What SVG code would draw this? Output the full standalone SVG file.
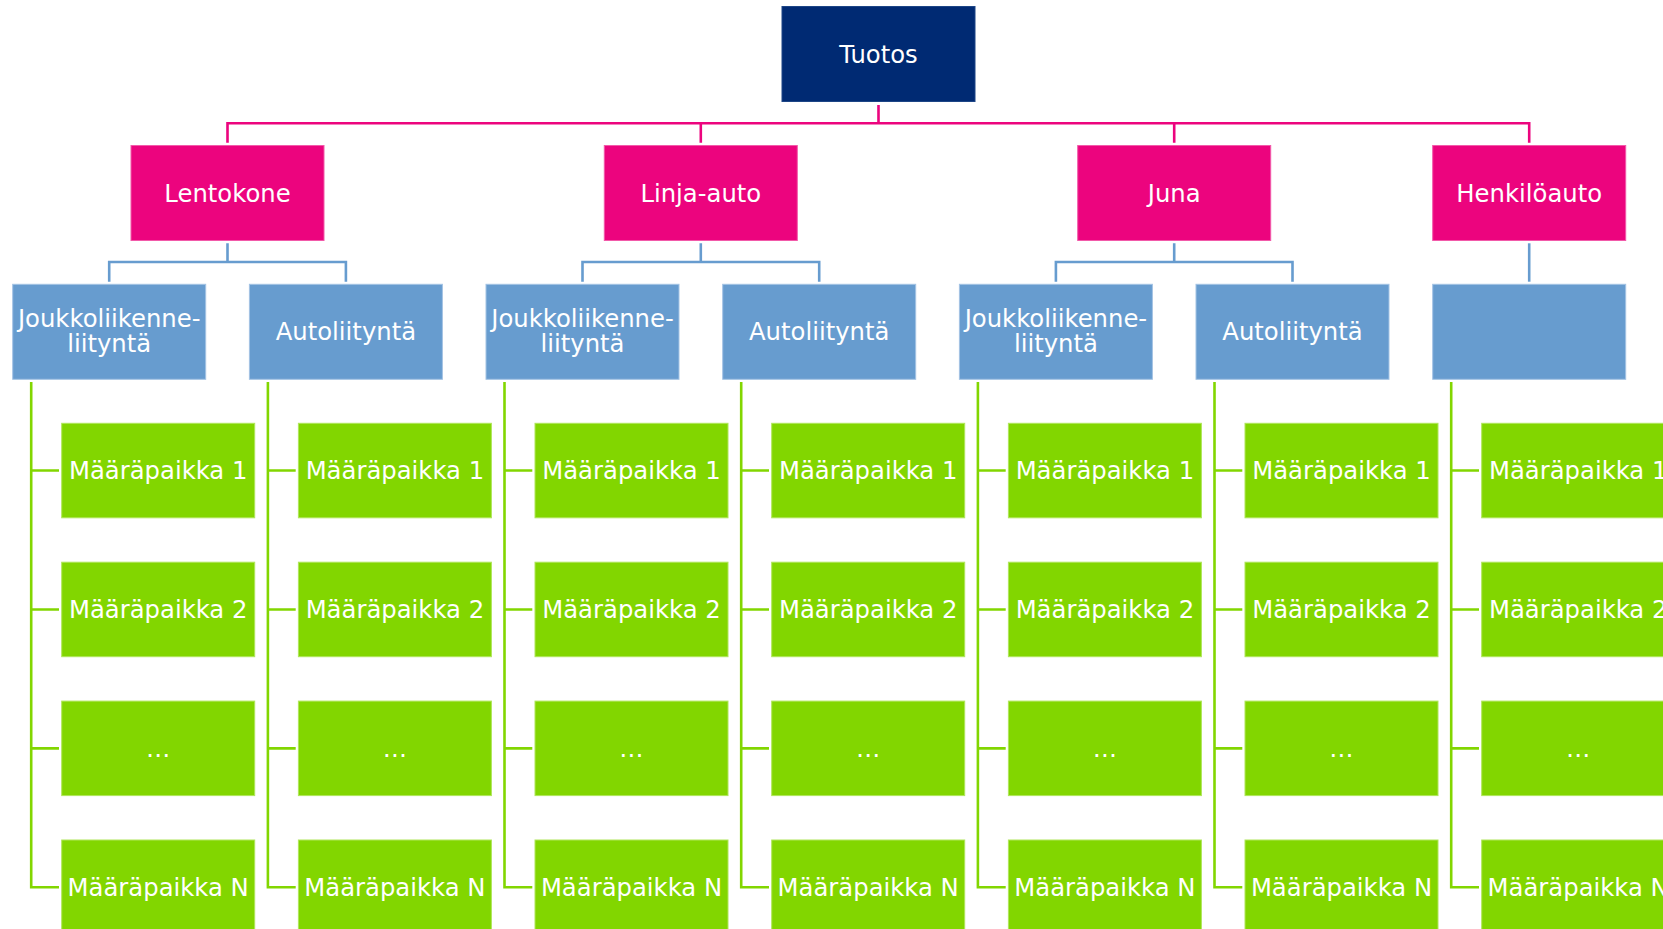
<svg xmlns="http://www.w3.org/2000/svg" width="1663" height="929" viewBox="0 0 1663 929">
  <style>
    .box { stroke-width: 1; }
    .root { fill: #002A73; stroke: #1d4586; }
    .mode { fill: #EC047E; stroke: #f25aa9; }
    .link { fill: #679CCF; stroke: #a3c3e4; }
    .dest { fill: #82D600; stroke: #b0e65a; }
    .lbl { font-family: "DejaVu Sans", Verdana, sans-serif; font-size: 24.3px; fill: #ffffff; text-anchor: middle; }
    .c-pink { fill: none; stroke: #EC047E; stroke-width: 2.6; }
    .c-blue { fill: none; stroke: #679CCF; stroke-width: 2.6; }
    .c-green { fill: none; stroke: #82D600; stroke-width: 2.6; }
  </style>

  <!-- connectors -->
  <g id="connectors">
    <!-- root to transport modes -->
    <path class="c-pink" d="M878.5 105 V123.3 M227.5 142.7 V123.3 H1529.2 V142.7 M700.8 123.3 V142.7 M1174.2 123.3 V142.7"/>
    <!-- modes to access types -->
    <path class="c-blue" d="M227.5 243.3 V262 M109.2 281.7 V262 H345.9 V281.7"/>
    <path class="c-blue" d="M700.8 243.3 V262 M582.5 281.7 V262 H819.2 V281.7"/>
    <path class="c-blue" d="M1174.2 243.3 V262 M1055.9 281.7 V262 H1292.5 V281.7"/>
    <path class="c-blue" d="M1529.2 243.3 V281.7"/>
    <!-- access types to destinations -->
    <path class="c-green" d="M31.2 382 V887.2 H59 M31.2 470.5 H59 M31.2 609.5 H59 M31.2 748.4 H59"/>
    <path class="c-green" d="M267.9 382 V887.2 H295.7 M267.9 470.5 H295.7 M267.9 609.5 H295.7 M267.9 748.4 H295.7"/>
    <path class="c-green" d="M504.5 382 V887.2 H532.3 M504.5 470.5 H532.3 M504.5 609.5 H532.3 M504.5 748.4 H532.3"/>
    <path class="c-green" d="M741.2 382 V887.2 H769 M741.2 470.5 H769 M741.2 609.5 H769 M741.2 748.4 H769"/>
    <path class="c-green" d="M977.9 382 V887.2 H1005.7 M977.9 470.5 H1005.7 M977.9 609.5 H1005.7 M977.9 748.4 H1005.7"/>
    <path class="c-green" d="M1214.5 382 V887.2 H1242.3 M1214.5 470.5 H1242.3 M1214.5 609.5 H1242.3 M1214.5 748.4 H1242.3"/>
    <path class="c-green" d="M1451.2 382 V887.2 H1479 M1451.2 470.5 H1479 M1451.2 609.5 H1479 M1451.2 748.4 H1479"/>
  </g>

  <!-- root -->
  <g id="tuotos">
    <rect class="box root" x="782" y="6.5" width="193" height="95"/>
    <text class="lbl" x="878.5" y="62.5">Tuotos</text>
  </g>

  <!-- transport modes -->
  <g id="lentokone">
    <rect class="box mode" x="131" y="145.5" width="193" height="95"/>
    <text class="lbl" x="227.5" y="201.5">Lentokone</text>
  </g>
  <g id="linja-auto">
    <rect class="box mode" x="604.3" y="145.5" width="193" height="95"/>
    <text class="lbl" x="700.8" y="201.5">Linja-auto</text>
  </g>
  <g id="juna">
    <rect class="box mode" x="1077.7" y="145.5" width="193" height="95"/>
    <text class="lbl" x="1174.2" y="201.5">Juna</text>
  </g>
  <g id="henkiloauto">
    <rect class="box mode" x="1432.7" y="145.5" width="193" height="95"/>
    <text class="lbl" x="1529.2" y="201.5">Henkilöauto</text>
  </g>

  <!-- access types -->
  <g id="lentokone-joukko">
    <rect class="box link" x="12.7" y="284.3" width="193" height="95"/>
    <text class="lbl" x="109.2" y="326.7">Joukkoliikenne-</text>
    <text class="lbl" x="109.2" y="352.3">liityntä</text>
  </g>
  <g id="lentokone-auto">
    <rect class="box link" x="249.4" y="284.3" width="193" height="95"/>
    <text class="lbl" x="345.9" y="340.3">Autoliityntä</text>
  </g>
  <g id="linja-auto-joukko">
    <rect class="box link" x="486" y="284.3" width="193" height="95"/>
    <text class="lbl" x="582.5" y="326.7">Joukkoliikenne-</text>
    <text class="lbl" x="582.5" y="352.3">liityntä</text>
  </g>
  <g id="linja-auto-auto">
    <rect class="box link" x="722.7" y="284.3" width="193" height="95"/>
    <text class="lbl" x="819.2" y="340.3">Autoliityntä</text>
  </g>
  <g id="juna-joukko">
    <rect class="box link" x="959.4" y="284.3" width="193" height="95"/>
    <text class="lbl" x="1055.9" y="326.7">Joukkoliikenne-</text>
    <text class="lbl" x="1055.9" y="352.3">liityntä</text>
  </g>
  <g id="juna-auto">
    <rect class="box link" x="1196" y="284.3" width="193" height="95"/>
    <text class="lbl" x="1292.5" y="340.3">Autoliityntä</text>
  </g>
  <g id="henkiloauto-tyhja">
    <rect class="box link" x="1432.7" y="284.3" width="193" height="95"/>
  </g>

  <!-- destinations, column 1 -->
  <g id="c1-m1"><rect class="box dest" x="61.7" y="423.3" width="193" height="94.5"/><text class="lbl" x="158.2" y="479">Määräpaikka 1</text></g>
  <g id="c1-m2"><rect class="box dest" x="61.7" y="562.2" width="193" height="94.5"/><text class="lbl" x="158.2" y="618">Määräpaikka 2</text></g>
  <g id="c1-m3"><rect class="box dest" x="61.7" y="701.1" width="193" height="94.5"/><text class="lbl" x="158.2" y="757">…</text></g>
  <g id="c1-mn"><rect class="box dest" x="61.7" y="840" width="193" height="94.5"/><text class="lbl" x="158.2" y="895.8">Määräpaikka N</text></g>

  <!-- column 2 -->
  <g id="c2-m1"><rect class="box dest" x="298.4" y="423.3" width="193" height="94.5"/><text class="lbl" x="394.9" y="479">Määräpaikka 1</text></g>
  <g id="c2-m2"><rect class="box dest" x="298.4" y="562.2" width="193" height="94.5"/><text class="lbl" x="394.9" y="618">Määräpaikka 2</text></g>
  <g id="c2-m3"><rect class="box dest" x="298.4" y="701.1" width="193" height="94.5"/><text class="lbl" x="394.9" y="757">…</text></g>
  <g id="c2-mn"><rect class="box dest" x="298.4" y="840" width="193" height="94.5"/><text class="lbl" x="394.9" y="895.8">Määräpaikka N</text></g>

  <!-- column 3 -->
  <g id="c3-m1"><rect class="box dest" x="535" y="423.3" width="193" height="94.5"/><text class="lbl" x="631.5" y="479">Määräpaikka 1</text></g>
  <g id="c3-m2"><rect class="box dest" x="535" y="562.2" width="193" height="94.5"/><text class="lbl" x="631.5" y="618">Määräpaikka 2</text></g>
  <g id="c3-m3"><rect class="box dest" x="535" y="701.1" width="193" height="94.5"/><text class="lbl" x="631.5" y="757">…</text></g>
  <g id="c3-mn"><rect class="box dest" x="535" y="840" width="193" height="94.5"/><text class="lbl" x="631.5" y="895.8">Määräpaikka N</text></g>

  <!-- column 4 -->
  <g id="c4-m1"><rect class="box dest" x="771.7" y="423.3" width="193" height="94.5"/><text class="lbl" x="868.2" y="479">Määräpaikka 1</text></g>
  <g id="c4-m2"><rect class="box dest" x="771.7" y="562.2" width="193" height="94.5"/><text class="lbl" x="868.2" y="618">Määräpaikka 2</text></g>
  <g id="c4-m3"><rect class="box dest" x="771.7" y="701.1" width="193" height="94.5"/><text class="lbl" x="868.2" y="757">…</text></g>
  <g id="c4-mn"><rect class="box dest" x="771.7" y="840" width="193" height="94.5"/><text class="lbl" x="868.2" y="895.8">Määräpaikka N</text></g>

  <!-- column 5 -->
  <g id="c5-m1"><rect class="box dest" x="1008.4" y="423.3" width="193" height="94.5"/><text class="lbl" x="1104.9" y="479">Määräpaikka 1</text></g>
  <g id="c5-m2"><rect class="box dest" x="1008.4" y="562.2" width="193" height="94.5"/><text class="lbl" x="1104.9" y="618">Määräpaikka 2</text></g>
  <g id="c5-m3"><rect class="box dest" x="1008.4" y="701.1" width="193" height="94.5"/><text class="lbl" x="1104.9" y="757">…</text></g>
  <g id="c5-mn"><rect class="box dest" x="1008.4" y="840" width="193" height="94.5"/><text class="lbl" x="1104.9" y="895.8">Määräpaikka N</text></g>

  <!-- column 6 -->
  <g id="c6-m1"><rect class="box dest" x="1245" y="423.3" width="193" height="94.5"/><text class="lbl" x="1341.5" y="479">Määräpaikka 1</text></g>
  <g id="c6-m2"><rect class="box dest" x="1245" y="562.2" width="193" height="94.5"/><text class="lbl" x="1341.5" y="618">Määräpaikka 2</text></g>
  <g id="c6-m3"><rect class="box dest" x="1245" y="701.1" width="193" height="94.5"/><text class="lbl" x="1341.5" y="757">…</text></g>
  <g id="c6-mn"><rect class="box dest" x="1245" y="840" width="193" height="94.5"/><text class="lbl" x="1341.5" y="895.8">Määräpaikka N</text></g>

  <!-- column 7 -->
  <g id="c7-m1"><rect class="box dest" x="1481.7" y="423.3" width="193" height="94.5"/><text class="lbl" x="1578.2" y="479">Määräpaikka 1</text></g>
  <g id="c7-m2"><rect class="box dest" x="1481.7" y="562.2" width="193" height="94.5"/><text class="lbl" x="1578.2" y="618">Määräpaikka 2</text></g>
  <g id="c7-m3"><rect class="box dest" x="1481.7" y="701.1" width="193" height="94.5"/><text class="lbl" x="1578.2" y="757">…</text></g>
  <g id="c7-mn"><rect class="box dest" x="1481.7" y="840" width="193" height="94.5"/><text class="lbl" x="1578.2" y="895.8">Määräpaikka N</text></g>
</svg>
